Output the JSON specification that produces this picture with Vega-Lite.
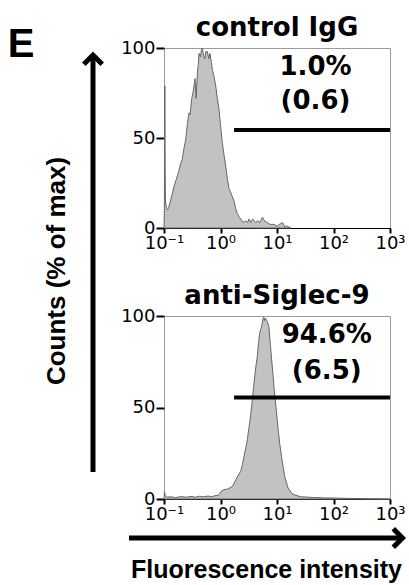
{
  "$schema": "https://vega.github.io/schema/vega-lite/v6.json",
  "padding": {"top": 14, "left": 0, "right": 0, "bottom": 0},
  "background": "white",
  "spacing": 7,
  "datasets": {
    "ctrl": [
      {"x":0.1,"y":0},{"x":0.1015,"y":10},{"x":0.1035,"y":79},{"x":0.1045,"y":40},{"x":0.106,"y":15},
      {"x":0.11,"y":12},{"x":0.115,"y":10},{"x":0.12,"y":11},{"x":0.13,"y":15},{"x":0.14,"y":19},
      {"x":0.15,"y":23},{"x":0.165,"y":27},{"x":0.18,"y":31},{"x":0.198,"y":36},{"x":0.21,"y":38},
      {"x":0.225,"y":44},{"x":0.242,"y":49},{"x":0.26,"y":58},{"x":0.277,"y":64},{"x":0.29,"y":63},
      {"x":0.31,"y":72},{"x":0.325,"y":75},{"x":0.34,"y":79},{"x":0.355,"y":83},{"x":0.37,"y":72},
      {"x":0.39,"y":86},{"x":0.405,"y":91},{"x":0.417,"y":97},{"x":0.44,"y":95},{"x":0.46,"y":99},
      {"x":0.479,"y":100},{"x":0.5,"y":96},{"x":0.525,"y":94},{"x":0.55,"y":98},{"x":0.586,"y":98},
      {"x":0.62,"y":94},{"x":0.652,"y":97},{"x":0.69,"y":92},{"x":0.719,"y":88},{"x":0.77,"y":84},
      {"x":0.822,"y":79},{"x":0.88,"y":72},{"x":0.94,"y":66},{"x":1.0,"y":57},{"x":1.08,"y":47},
      {"x":1.16,"y":40},{"x":1.24,"y":34},{"x":1.33,"y":27},{"x":1.41,"y":22},{"x":1.55,"y":19},
      {"x":1.73,"y":15},{"x":1.85,"y":11},{"x":1.99,"y":8},{"x":2.15,"y":6},{"x":2.28,"y":5},
      {"x":2.5,"y":3},{"x":2.79,"y":4},{"x":3.0,"y":3},{"x":3.2,"y":5},{"x":3.42,"y":3},
      {"x":3.7,"y":5},{"x":4.2,"y":3},{"x":4.6,"y":4},{"x":5.0,"y":3},{"x":5.51,"y":6},
      {"x":6.0,"y":4},{"x":6.76,"y":3},{"x":7.5,"y":2},{"x":8.85,"y":2},{"x":10,"y":1},
      {"x":11,"y":2},{"x":12.5,"y":3},{"x":13.5,"y":1},{"x":15.3,"y":1},{"x":17.5,"y":0}
    ],
    "sig": [
      {"x":0.1,"y":0},{"x":0.102,"y":4},{"x":0.105,"y":2},{"x":0.11,"y":1},{"x":0.13,"y":1.2},
      {"x":0.16,"y":0.8},{"x":0.2,"y":1.3},{"x":0.25,"y":1},{"x":0.3,"y":1.4},{"x":0.36,"y":1},
      {"x":0.42,"y":1.5},{"x":0.5,"y":1.2},{"x":0.6,"y":1.6},{"x":0.7,"y":1.3},{"x":0.8,"y":1.8},
      {"x":0.9,"y":2},{"x":0.95,"y":2.5},{"x":1.02,"y":4.2},{"x":1.16,"y":5.1},{"x":1.35,"y":5.5},
      {"x":1.63,"y":6.9},{"x":1.87,"y":10.5},{"x":2.05,"y":13},{"x":2.28,"y":15.1},{"x":2.45,"y":19},
      {"x":2.61,"y":23.3},{"x":2.8,"y":28},{"x":2.99,"y":32.4},{"x":3.15,"y":38},{"x":3.29,"y":41.5},
      {"x":3.45,"y":47},{"x":3.66,"y":54.2},{"x":3.85,"y":61},{"x":4.03,"y":66.9},{"x":4.25,"y":73},
      {"x":4.48,"y":77.8},{"x":4.7,"y":85},{"x":4.93,"y":90.5},{"x":5.2,"y":93},{"x":5.48,"y":96},
      {"x":5.7,"y":99},{"x":5.87,"y":99.3},{"x":6.05,"y":97.5},{"x":6.28,"y":98.7},{"x":6.72,"y":96.9},
      {"x":7.19,"y":94.2},{"x":7.69,"y":83.3},{"x":8.05,"y":76},{"x":8.45,"y":68.7},{"x":8.9,"y":60},
      {"x":9.42,"y":52.4},{"x":10.5,"y":37.8},{"x":11.2,"y":30},{"x":12.0,"y":23.3},{"x":13.7,"y":12.2},
      {"x":15.7,"y":6},{"x":18.5,"y":2.9},{"x":22.6,"y":1.8},{"x":27,"y":1.2},{"x":31.7,"y":1.1},
      {"x":45,"y":0.8},{"x":70,"y":0.6},{"x":107,"y":0.5},{"x":200,"y":0.3},{"x":1000,"y":0}
    ]
  },
  "hconcat": [
    {
      "width": 100,
      "height": 500,
      "view": {"stroke": null},
      "layer": [
        {
          "data": {"values": [{"x": 0.93, "y": 0.152, "y2": 0.98}]},
          "mark": {"type": "rule", "strokeWidth": 5, "color": "black"},
          "encoding": {
            "x": {"field": "x", "type": "quantitative", "scale": {"domain": [0, 1]}, "axis": null},
            "y": {"field": "y", "type": "quantitative", "scale": {"domain": [0, 1]}, "axis": null},
            "y2": {"field": "y2"}
          }
        },
        {
          "data": {"values": [{"x": 0.93, "y": 0.986}]},
          "mark": {"type": "point", "shape": "M-0.75,0.75L0,0L0.75,0.75", "size": 600, "filled": false, "strokeWidth": 5, "color": "black", "opacity": 1},
          "encoding": {
            "x": {"field": "x", "type": "quantitative"},
            "y": {"field": "y", "type": "quantitative"}
          }
        },
        {
          "data": {"values": [{"x": 0.57, "y": 0.554, "t": "Counts (% of max)"}]},
          "mark": {"type": "text", "angle": 270, "font": "Liberation Sans", "fontWeight": "bold", "fontSize": 26, "align": "center", "baseline": "middle", "color": "black"},
          "encoding": {
            "x": {"field": "x", "type": "quantitative"},
            "y": {"field": "y", "type": "quantitative"},
            "text": {"field": "t"}
          }
        },
        {
          "data": {"values": [{"x": 0.21, "y": 0.982, "t": "E"}]},
          "mark": {"type": "text", "font": "Liberation Sans", "fontWeight": "bold", "fontSize": 40, "align": "center", "baseline": "alphabetic", "color": "black"},
          "encoding": {
            "x": {"field": "x", "type": "quantitative"},
            "y": {"field": "y", "type": "quantitative"},
            "text": {"field": "t"}
          }
        }
      ]
    },
    {
      "spacing": 29,
      "vconcat": [
        {
          "width": 226,
          "height": 180,
          "title": {"text": "control IgG", "font": "DejaVu Sans", "fontSize": 26, "fontWeight": "bold", "color": "black", "offset": -2},
          "layer": [
            {
              "data": {"name": "ctrl"},
              "mark": {"type": "area", "color": "#c2c2c2", "stroke": "#666666", "strokeWidth": 1},
              "encoding": {
                "x": {"field": "x", "type": "quantitative", "scale": {"type": "log", "domain": [0.1, 1000]},
                  "axis": {"values": [0.1, 1, 10, 100, 1000], "title": null, "labelExpr": "'10' + ['⁻¹','⁰','¹','²','³'][round(log(datum.value)/LN10)+1]"}},
                "y": {"field": "y", "type": "quantitative", "scale": {"domain": [0, 100]},
                  "axis": {"values": [0, 50, 100], "title": null, "orient": "left"}}
              }
            },
            {
              "data": {"values": [{"x": 1.74, "x2": 1000, "y": 54.4}]},
              "mark": {"type": "rule", "strokeWidth": 4, "color": "black"},
              "encoding": {
                "x": {"field": "x", "type": "quantitative"},
                "x2": {"field": "x2"},
                "y": {"field": "y", "type": "quantitative"}
              }
            },
            {
              "data": {"values": [{"x": 48, "y": 89.2, "t": "1.0%"}, {"x": 48, "y": 70.5, "t": "(0.6)"}]},
              "mark": {"type": "text", "font": "DejaVu Sans", "fontWeight": "bold", "fontSize": 26, "align": "center", "baseline": "middle", "color": "black"},
              "encoding": {
                "x": {"field": "x", "type": "quantitative"},
                "y": {"field": "y", "type": "quantitative"},
                "text": {"field": "t"}
              }
            }
          ]
        },
        {
          "width": 226,
          "height": 183,
          "title": {"text": "anti-Siglec-9", "font": "DejaVu Sans", "fontSize": 26, "fontWeight": "bold", "color": "black", "offset": -2},
          "layer": [
            {
              "data": {"name": "sig"},
              "mark": {"type": "area", "color": "#c2c2c2", "stroke": "#666666", "strokeWidth": 1},
              "encoding": {
                "x": {"field": "x", "type": "quantitative", "scale": {"type": "log", "domain": [0.1, 1000]},
                  "axis": {"values": [0.1, 1, 10, 100, 1000], "title": "Fluorescence intensity",
                    "titleFont": "Liberation Sans", "titleFontSize": 25, "titleFontWeight": "bold", "titleColor": "black",
                    "titleX": 102, "titleY": 78, "titleBaseline": "alphabetic", "titleAlign": "center",
                    "labelExpr": "'10' + ['⁻¹','⁰','¹','²','³'][round(log(datum.value)/LN10)+1]"}},
                "y": {"field": "y", "type": "quantitative", "scale": {"domain": [0, 100]},
                  "axis": {"values": [0, 50, 100], "title": null, "orient": "left"}}
              }
            },
            {
              "data": {"values": [{"x": 1.74, "x2": 1000, "y": 55.5}]},
              "mark": {"type": "rule", "strokeWidth": 4, "color": "black"},
              "encoding": {
                "x": {"field": "x", "type": "quantitative"},
                "x2": {"field": "x2"},
                "y": {"field": "y", "type": "quantitative"}
              }
            },
            {
              "data": {"values": [{"x": 76, "y": 89.6, "t": "94.6%"}, {"x": 76, "y": 70, "t": "(6.5)"}]},
              "mark": {"type": "text", "font": "DejaVu Sans", "fontWeight": "bold", "fontSize": 26, "align": "center", "baseline": "middle", "color": "black"},
              "encoding": {
                "x": {"field": "x", "type": "quantitative"},
                "y": {"field": "y", "type": "quantitative"},
                "text": {"field": "t"}
              }
            },
            {
              "data": {"values": [{"x": 0.024, "x2": 1663, "y": -21.3}]},
              "mark": {"type": "rule", "strokeWidth": 5, "color": "black", "clip": false},
              "encoding": {
                "x": {"field": "x", "type": "quantitative"},
                "x2": {"field": "x2"},
                "y": {"field": "y", "type": "quantitative"}
              }
            },
            {
              "data": {"values": [{"x": 1663, "y": -21.3}]},
              "mark": {"type": "point", "shape": "M-0.75,-0.75L0,0L-0.75,0.75", "size": 600, "filled": false, "strokeWidth": 5, "color": "black", "opacity": 1, "clip": false},
              "encoding": {
                "x": {"field": "x", "type": "quantitative"},
                "y": {"field": "y", "type": "quantitative"}
              }
            }
          ]
        }
      ]
    }
  ],
  "config": {
    "view": {"stroke": "#9a9a9a", "strokeWidth": 1},
    "title": {"anchor": "middle"},
    "axis": {
      "labelFont": "DejaVu Sans",
      "labelFontSize": 18,
      "labelColor": "black",
      "tickColor": "black",
      "tickWidth": 2,
      "grid": false
    },
    "axisX": {"domain": true, "domainColor": "black", "domainWidth": 1, "tickSize": 5, "labelPadding": 1, "labelFlush": false},
    "axisY": {"domain": false, "tickSize": 8, "labelPadding": 1}
  }
}
